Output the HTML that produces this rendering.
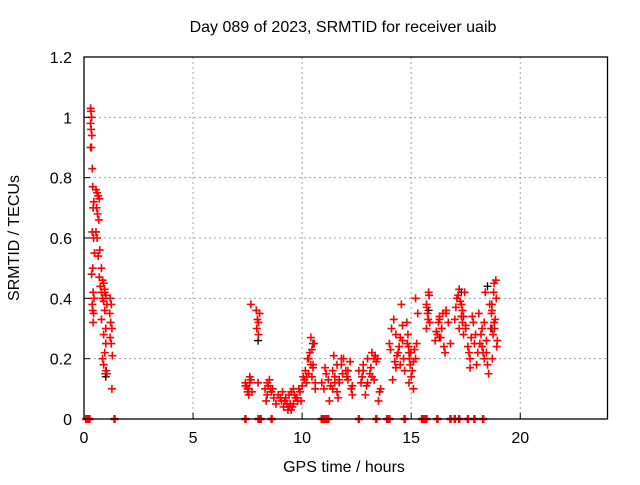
<!DOCTYPE html>
<html><head><meta charset="utf-8"><style>
body{margin:0;background:#fff}
svg text{font-family:"Liberation Sans",sans-serif;font-size:16px;fill:#000}
</style></head><body>
<svg id="chart" width="640" height="480">
<g id="grid"></g><g id="marks"></g><g id="axes"></g>
<text x="343" y="32" text-anchor="middle">Day 089 of 2023, SRMTID for receiver uaib</text>
<text x="344" y="472" text-anchor="middle">GPS time / hours</text>
<text transform="translate(19,238) rotate(-90)" text-anchor="middle">SRMTID / TECUs</text>
</svg>
<script>
const xTicks=[0,5,10,15,20];
const yTicks=[0,0.2,0.4,0.6,0.8,1,1.2];
const yTickLabels=["0","0.2","0.4","0.6","0.8","1","1.2"];
const redTimes=[
0.3,0.32,0.35,0.3,0.33,0.36,0.3,0.34,0.38,0.4,0.45,0.42,0.38,0.44,0.48,0.4,0.35,0.42,0.46,0.38,0.4,0.44,0.42,
0.55,0.6,0.65,0.7,0.58,0.62,0.68,0.55,0.6,0.72,0.65,0.8,0.7,0.85,0.9,0.75,0.95,0.8,1.0,0.85,0.9,1.05,0.95,0.8,1.0,0.9,1.0,0.95,0.85,0.9,1.0,1.05,0.95,
1.2,1.25,1.18,1.22,1.28,1.2,1.25,1.3,1.28,
7.4,7.5,7.6,7.45,7.55,7.65,7.5,7.6,7.7,7.4,7.55,7.65,
7.9,7.95,8.0,7.92,8.0,8.05,7.98,
8.3,8.4,8.5,8.35,8.45,8.6,8.7,8.4,8.55,8.8,8.65,
8.9,9.0,9.1,9.2,9.3,9.4,9.5,9.6,9.7,9.8,9.9,9.05,9.15,9.35,9.45,9.55,9.65,9.75,9.85,9.95,9.25,9.5,9.6,9.4,
10.0,10.1,10.2,10.3,10.4,10.5,10.6,10.05,10.15,10.25,10.35,10.45,10.55,10.4,10.45,10.5,10.3,10.6,10.2,
10.9,11.0,11.1,11.2,11.3,11.4,11.5,11.6,11.7,11.8,11.9,12.0,12.1,12.2,12.3,11.05,11.25,11.45,11.65,11.85,12.05,12.25,11.5,11.6,11.8,11.7,12.1,12.3,11.4,
12.6,12.7,12.8,12.9,13.0,13.1,13.2,13.3,13.4,13.5,12.75,12.95,13.15,13.35,13.55,12.8,13.0,13.2,13.45,13.6,13.3,
14.0,14.1,14.2,14.3,14.4,14.5,14.6,14.7,14.05,14.25,14.45,14.65,14.15,14.35,14.5,14.6,14.3,14.55,
14.8,14.85,14.9,14.95,15.0,15.1,15.2,15.3,14.82,14.88,14.92,14.98,15.05,15.15,15.25,14.9,15.1,15.2,
15.7,15.75,15.8,15.85,15.72,15.78,15.82,15.7,
16.1,16.2,16.3,16.4,16.5,16.6,16.7,16.8,16.15,16.25,16.35,16.45,16.55,16.3,16.4,16.6,
17.0,17.1,17.2,17.3,17.4,17.5,17.05,17.15,17.25,17.35,17.45,17.2,17.3,17.4,17.35,17.5,
17.6,17.7,17.8,17.9,18.0,17.65,17.75,17.85,17.95,17.7,
18.05,18.15,18.25,18.35,18.45,18.55,18.1,18.2,18.3,18.4,18.5,18.6,18.25,18.35,18.45,
18.65,18.7,18.75,18.8,18.85,18.9,18.95,18.68,18.72,18.78,18.82,18.88,18.92,18.7,18.8,18.9
];
const redValues=[
1.03,1.02,1.0,0.98,0.96,0.94,0.9,0.9,0.83,0.77,0.72,0.7,0.62,0.6,0.55,0.5,0.48,0.42,0.4,0.38,0.36,0.35,0.32,
0.76,0.75,0.74,0.73,0.7,0.68,0.66,0.62,0.6,0.56,0.54,0.5,0.47,0.46,0.45,0.44,0.43,0.42,0.41,0.4,0.39,0.38,0.36,0.33,0.3,0.28,0.25,0.22,0.2,0.18,0.16,0.15,
0.42,0.4,0.38,0.35,0.32,0.3,0.27,0.25,0.21,
0.1,0.12,0.09,0.14,0.11,0.08,0.13,0.1,0.12,0.09,0.11,0.1,
0.38,0.36,0.33,0.32,0.3,0.28,0.35,
0.12,0.1,0.08,0.13,0.06,0.11,0.09,0.07,0.12,0.1,0.05,
0.1,0.08,0.07,0.09,0.06,0.05,0.04,0.03,0.05,0.07,0.06,0.09,0.06,0.04,0.03,0.05,0.04,0.08,0.07,0.1,0.06,0.07,0.09,0.1,
0.08,0.11,0.13,0.12,0.15,0.18,0.17,0.1,0.14,0.16,0.2,0.22,0.14,0.25,0.27,0.23,0.18,0.2,0.12,
0.14,0.12,0.1,0.15,0.13,0.11,0.16,0.14,0.09,0.12,0.18,0.2,0.16,0.13,0.19,0.08,0.17,0.06,0.21,0.07,0.15,0.14,0.1,0.12,0.18,0.2,0.13,0.16,0.11,
0.1,0.16,0.12,0.18,0.08,0.2,0.15,0.22,0.13,0.19,0.06,0.14,0.11,0.17,0.21,0.09,0.16,0.12,0.14,0.2,0.1,
0.2,0.25,0.3,0.33,0.28,0.22,0.18,0.26,0.16,0.23,0.19,0.24,0.2,0.13,0.21,0.27,0.31,0.17,
0.38,0.32,0.28,0.22,0.18,0.14,0.1,0.2,0.35,0.25,0.24,0.2,0.22,0.16,0.23,0.25,0.12,0.19,
0.4,0.38,0.35,0.42,0.32,0.37,0.33,0.41,
0.3,0.26,0.28,0.34,0.3,0.24,0.36,0.32,0.25,0.29,0.32,0.27,0.35,0.22,0.33,0.3,
0.35,0.33,0.4,0.43,0.38,0.34,0.31,0.37,0.41,0.39,0.36,0.42,0.3,0.34,0.28,0.32,
0.3,0.24,0.2,0.34,0.25,0.18,0.22,0.27,0.32,0.28,
0.17,0.22,0.25,0.3,0.2,0.26,0.15,0.35,0.28,0.22,0.42,0.18,0.38,0.24,0.32,
0.22,0.3,0.38,0.28,0.45,0.33,0.4,0.26,0.35,0.2,0.42,0.3,0.46,0.24,0.36,0.32
];
const blackTimes=[1.0,1.02,0.98,7.98,10.5,16.3,17.3,18.5,18.7,15.8];
const blackValues=[0.14,0.16,0.15,0.26,0.25,0.27,0.42,0.44,0.3,0.36];
const zeroTimes=[0.1,0.2,0.25,1.4,7.4,8.0,8.1,8.6,10.9,11.0,11.1,11.2,12.6,13.4,13.9,14.0,14.7,15.5,15.6,15.7,16.2,16.8,17.0,17.2,17.6,17.9,18.3];

const X0=84,X1=607.5,Y0=419,Y1=57;
const sx=t=>X0+(t/24)*(X1-X0);
const sy=v=>Y0-(v/1.2)*(Y0-Y1);
const NS="http://www.w3.org/2000/svg";
function mk(tag,attrs,parent){const e=document.createElementNS(NS,tag);for(const k in attrs)e.setAttribute(k,attrs[k]);parent.appendChild(e);return e;}
const grid=document.getElementById('grid'),axes=document.getElementById('axes'),marks=document.getElementById('marks');
xTicks.forEach(t=>{
 const x=sx(t);
 if(t>0){const g=mk('line',{x1:x,x2:x,y1:Y0,y2:Y1,stroke:'#a0a0a0','stroke-dasharray':'2,3'},grid);
 
 }
 const tk=mk('line',{x1:x,x2:x,y1:Y0,y2:Y0-6,stroke:'#000'},axes);
 
 
 const tx=mk('text',{x:x,y:Y0+24,'text-anchor':'middle'},axes);tx.textContent=t;
 
 
});
yTicks.forEach((v,i)=>{
 const y=sy(v);
 if(v>0&&v<1.2){const g=mk('line',{x1:X0,x2:X1,y1:y,y2:y,stroke:'#a0a0a0','stroke-dasharray':'2,3'},grid);
 
 }
 const tk=mk('line',{x1:X0,x2:X0+6,y1:y,y2:y,stroke:'#000'},axes);
 
 
 const tx=mk('text',{x:X0-12,y:y+6,'text-anchor':'end'},axes);tx.textContent=yTickLabels[i];
 
 
});
const frame=mk('rect',{x:X0,y:Y1,width:X1-X0,height:Y0-Y1,fill:'none',stroke:'#000','stroke-width':1.3},axes);


function plus(t,v,c,name,w){
 const x=sx(t),y=sy(v);
 const p=mk('path',{d:`M${x-4},${y}h8M${x},${y-4}v8`,stroke:c,'stroke-width':w},marks);
 
 
}
blackTimes.forEach((t,i)=>plus(t,blackValues[i],'#000','black-point',1.3));
redTimes.forEach((t,i)=>plus(t,redValues[i],'#f00','srmtid-point',1.6));
zeroTimes.forEach(t=>plus(t,0,'#f00','zero-point',2.5));
</script>
</body></html>
